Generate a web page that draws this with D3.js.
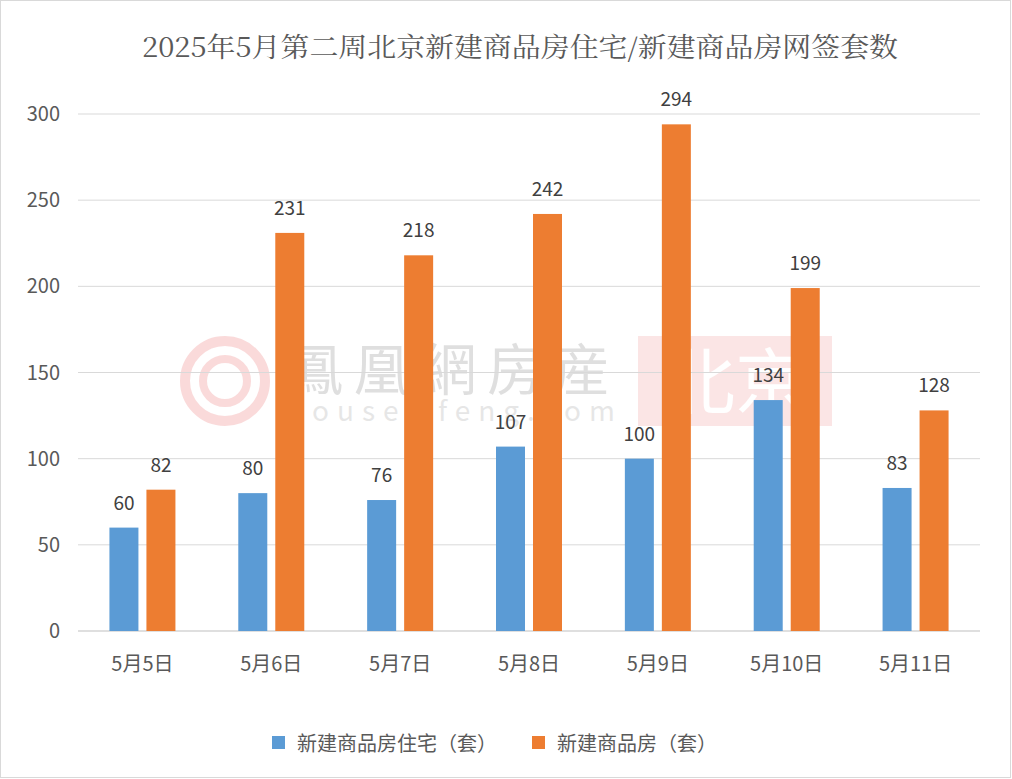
<!DOCTYPE html>
<html><head><meta charset="utf-8">
<script src="https://cdn.jsdelivr.net/npm/d3@7/dist/d3.min.js"></script>
<style>body{margin:0;background:#fff}</style></head>
<body><svg id="c" width="1012" height="779"></svg>
<script>
const categories=["5月5日","5月6日","5月7日","5月8日","5月9日","5月10日","5月11日"];
const residential=[60,80,76,107,100,134,83];
const allHousing=[82,231,218,242,294,199,128];
const seriesNames=["新建商品房住宅（套）","新建商品房（套）"];
const colors=["#5b9bd5","#ed7d31"];
const yTicks=[0,50,100,150,200,250,300];
const font="'Noto Sans CJK SC','Noto Sans',sans-serif";

const svg=d3.select("#c");
svg.append("rect").attr("x",0.5).attr("y",0.5).attr("width",1010).attr("height",777).attr("fill","#fff").attr("stroke","#d9d9d9");
const x=d3.scaleBand().domain(categories).range([78,980]);
const y=d3.scaleLinear().domain([0,300]).range([631,114]);

// watermark
const wm=svg.append("g").attr("opacity",0.2);
wm.append("circle").attr("cx",225).attr("cy",381).attr("r",40).attr("fill","none").attr("stroke","#e94b4b").attr("stroke-width",10);
wm.append("circle").attr("cx",225).attr("cy",381).attr("r",22).attr("fill","none").attr("stroke","#e94b4b").attr("stroke-width",8);
wm.append("text").attr("x",287).attr("y",390).attr("font-size",56).attr("textLength",323).attr("font-family",font).attr("fill","#666").text("鳳凰網房産");
wm.append("text").attr("x",287).attr("y",421).attr("font-size",28).attr("textLength",328).attr("font-family",font).attr("fill","#888").text("house.ifeng.com");
wm.append("rect").attr("x",638).attr("y",336).attr("width",194).attr("height",90).attr("fill","#f08080");
wm.append("text").attr("x",735).attr("y",408).attr("text-anchor","middle").attr("font-size",72).attr("font-family",font).attr("fill","#fff").text("北京");

svg.append("g").selectAll("line").data(yTicks).join("line")
 .attr("x1",78).attr("x2",980).attr("y1",d=>y(d)).attr("y2",d=>y(d))
 .attr("stroke",d=>d===0?"#bfbfbf":"#d9d9d9").attr("stroke-width",1);
svg.append("g").selectAll("text").data(yTicks).join("text")
 .attr("x",60).attr("y",d=>y(d)+7).attr("text-anchor","end").attr("font-size",20).attr("font-family",font).attr("fill","#595959").text(d=>d);

const bw=29,gap=8;
[residential,allHousing].forEach((vals,i)=>{
  const off=i===0?-gap/2-bw:gap/2;
  const g=svg.append("g");
  g.selectAll("rect").data(vals).join("rect")
   .attr("x",(d,j)=>x(categories[j])+x.bandwidth()/2+off).attr("width",bw)
   .attr("y",d=>y(d)).attr("height",d=>y(0)-y(d)).attr("fill",colors[i]);
  g.selectAll("text").data(vals).join("text")
   .attr("x",(d,j)=>x(categories[j])+x.bandwidth()/2+off+bw/2).attr("y",d=>y(d)-18)
   .attr("text-anchor","middle").attr("font-size",19).attr("font-family",font).attr("fill","#404040").text(d=>d);
});
svg.append("g").selectAll("text").data(categories).join("text")
 .attr("x",d=>x(d)+x.bandwidth()/2).attr("y",671).attr("text-anchor","middle")
 .attr("font-size",20).attr("font-family",font).attr("fill","#595959").text(d=>d);

svg.append("text").attr("x",142).attr("y",57).attr("textLength",756).attr("lengthAdjust","spacingAndGlyphs").attr("font-size",27)
 .attr("font-family","'Noto Serif CJK SC','Noto Sans CJK SC',serif").attr("fill","#595959").text("2025年5月第二周北京新建商品房住宅/新建商品房网签套数");

const lx=[272,532];
seriesNames.forEach((n,i)=>{
  svg.append("rect").attr("x",lx[i]).attr("y",736).attr("width",13).attr("height",13).attr("fill",colors[i]);
  svg.append("text").attr("x",lx[i]+25).attr("y",751).attr("font-size",20).attr("font-family",font).attr("fill","#595959").text(n);
});
</script></body></html>
